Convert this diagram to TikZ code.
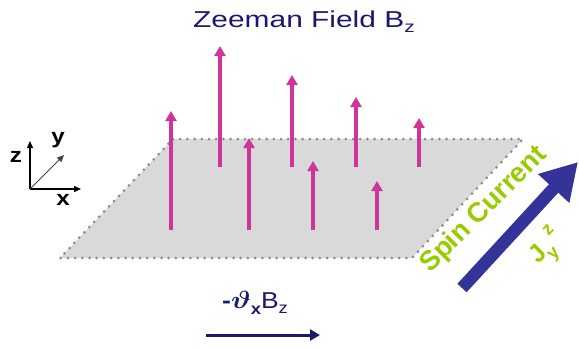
\documentclass[tikz,border=0pt]{standalone}
\usepackage{fontspec}
\setmainfont{Liberation Sans}
\usetikzlibrary{arrows.meta}
\definecolor{navy}{RGB}{25,25,112}
\definecolor{bigblue}{RGB}{51,51,153}
\definecolor{field}{RGB}{207,52,155}
\definecolor{spin}{RGB}{153,204,0}
\definecolor{planefill}{RGB}{217,217,217}
\definecolor{planedot}{RGB}{140,140,140}
\tikzset{
  fieldarrow/.style={draw=field, line width=3.6pt, -{Triangle[length=10pt,width=11pt]}},
  axis/.style={draw=black, line width=1.3pt, -{Triangle[length=7pt,width=6pt]}},
  lbl/.style={inner sep=0pt, font=\fontsize{21}{21}\selectfont\bfseries},
  spinlbl/.style={anchor=base, rotate=45, inner sep=0pt, text=spin, font=\fontsize{27.5}{27.5}\selectfont\bfseries},
}
\begin{document}
\begin{tikzpicture}[x=1pt,y=-1pt]
\useasboundingbox (0,0) rectangle (579,349);
% plane
\coordinate (p1) at (173,139);
\coordinate (p2) at (523,139);
\coordinate (p3) at (412,258);
\coordinate (p4) at (60,258);
\fill[planefill] (p1) -- (p2) -- (p3) -- (p4) -- cycle;
\draw[planedot, line width=3pt, line cap=round, dash pattern=on 0pt off 7.2pt] (p1) -- (p2) -- (p3) -- (p4) -- cycle;
% field arrows: back row
\foreach \n/\x/\t in {a/220/46, b/292/75, c/356/97, d/419/118}{
  \coordinate (\n0) at (\x,167);
  \coordinate (\n1) at (\x,\t);
  \draw[fieldarrow] (\n0) -- (\n1);
}
% front row
\foreach \n/\x/\t in {e/171/111, f/249/138, g/313/161, h/377/181}{
  \coordinate (\n0) at (\x,230);
  \coordinate (\n1) at (\x,\t);
  \draw[fieldarrow] (\n0) -- (\n1);
}
% axes
\coordinate (o) at (30,189);
\coordinate (zt) at (30,141);
\coordinate (xt) at (81,189);
\coordinate (yt) at (64,155);
\draw[axis] (o) -- (zt);
\draw[axis] (o) -- (xt);
\draw[axis, draw=black!75, line width=1pt] (o) -- (yt);
\node[lbl] (zl) at (16,157) {\scalebox{1.15}[1]{z}};
\node[lbl] (yl) at (58,140) {\scalebox{1.15}[1]{y}};
\node[lbl] (xl) at (63,200) {\scalebox{1.15}[1]{x}};
% title
\node[anchor=base west, inner sep=0pt, text=navy, font=\fontsize{23}{23}\selectfont] (title) at (193,27)
  {\scalebox{1.3}[1]{Zeeman Field B\raisebox{-0.25em}{\fontsize{16}{16}\selectfont z}}};
% big spin current arrow
\coordinate (jt) at (462,288);
\coordinate (jh) at (578,162);
\draw[bigblue, line width=12.5pt, -{Triangle[length=36pt,width=40pt]}] (jt) -- (jh);
\node[spinlbl] (spintxt) at (489,215) {Spin Current};
\node[spinlbl, font=\fontsize{25}{25}\selectfont\bfseries] (jtxt) at (551,252)
  {J\raisebox{-0.3em}{\fontsize{18}{18}\selectfont y}\hspace{3pt}\raisebox{0.5em}{\fontsize{18}{18}\selectfont z}};
% gradient label and arrow
\node[anchor=base west, inner sep=0pt, text=navy, font=\fontsize{23}{23}\selectfont] (grad) at (222,308)
  {\scalebox{1.15}[1]{\bfseries -\boldmath$\vartheta$\raisebox{-0.3em}{\fontsize{16}{16}\selectfont x}\unboldmath\mdseries B\raisebox{-0.25em}{\fontsize{16}{16}\selectfont z}}};
\coordinate (g0) at (206,335);
\coordinate (g1) at (320,335);
\draw[navy, line width=3pt, -{Triangle[length=10pt,width=11pt]}] (g0) -- (g1);
\end{tikzpicture}
\end{document}
